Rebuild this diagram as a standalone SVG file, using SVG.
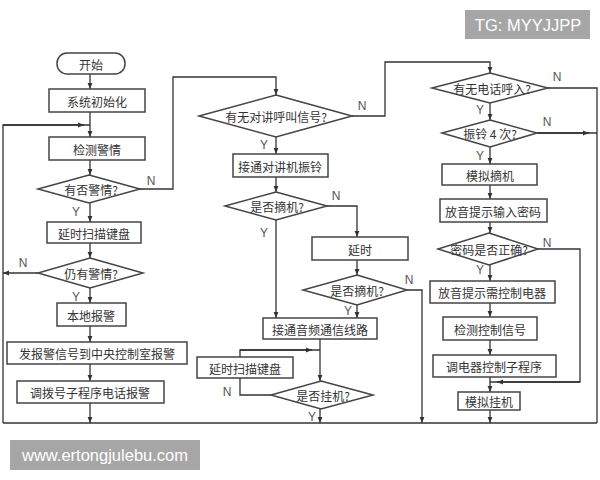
<svg xmlns="http://www.w3.org/2000/svg" width="600" height="480" viewBox="0 0 600 480">
<style>
.n rect,.n path{fill:#fff;stroke:#444;stroke-width:1.5}
.n text{font-family:"Noto Sans CJK SC","Liberation Sans",sans-serif;font-size:12px;fill:#333;text-anchor:middle;dominant-baseline:central}
#edges path{fill:none;stroke:#333;stroke-width:1.3}
.lb{font-family:"Liberation Sans",sans-serif;font-size:12px;fill:#555;text-anchor:middle;dominant-baseline:central}
.wm{font-family:"Liberation Sans","DejaVu Sans",sans-serif;font-size:16.5px;fill:#fff}
</style>
<defs>
<marker id="a" viewBox="0 0 10 10" refX="10" refY="5" markerWidth="6" markerHeight="6" orient="auto" markerUnits="userSpaceOnUse"><path d="M0,1 L10,5 L0,9 z" fill="#333"/></marker>
</defs>
<rect width="600" height="480" fill="#fff"/>
<g id="edges">
<path d="M90,74 V89" marker-end="url(#a)"/>
<path d="M90,112 V137" marker-end="url(#a)"/>
<path d="M90,160 V175" marker-end="url(#a)"/>
<path d="M90,203 V222" marker-end="url(#a)"/>
<path d="M140,189 H173 V77 H276 V95" marker-end="url(#a)"/>
<path d="M90,243 V258" marker-end="url(#a)"/>
<path d="M38,273 H3" marker-end="url(#a)"/>
<path d="M3,423 V125 H90" />
<path d="M3,125 H84" marker-end="url(#a)"/>
<path d="M90,287 V303" marker-end="url(#a)"/>
<path d="M90,326 V342" marker-end="url(#a)"/>
<path d="M90,364 V381" marker-end="url(#a)"/>
<path d="M90,403 V423" marker-end="url(#a)"/>
<path d="M3,423 H597"/>
<path d="M276,137 V154" marker-end="url(#a)"/>
<path d="M276,177 V192" marker-end="url(#a)"/>
<path d="M327,206 H357 V237" marker-end="url(#a)"/>
<path d="M276,220 V318" marker-end="url(#a)"/>
<path d="M357,260 V275" marker-end="url(#a)"/>
<path d="M357,305 V318" marker-end="url(#a)"/>
<path d="M407,290 H422 V423" marker-end="url(#a)"/>
<path d="M320,339 V381" marker-end="url(#a)"/>
<path d="M271,395 H240 V378"/>
<path d="M240,357 V350 H320"/>
<path d="M240,350 H312" marker-end="url(#a)"/>
<path d="M320,409 V423" marker-end="url(#a)"/>
<path d="M352,116 H385 V62 H490 V73" marker-end="url(#a)"/>
<path d="M548,88 H597 V423"/>
<path d="M490,103 V120" marker-end="url(#a)"/>
<path d="M537,133 H597"/>
<path d="M537,133 H589" marker-end="url(#a)"/>
<path d="M490,147 V164" marker-end="url(#a)"/>
<path d="M490,185 V199" marker-end="url(#a)"/>
<path d="M490,222 V233" marker-end="url(#a)"/>
<path d="M538,249 H580 V382 H490"/>
<path d="M580,382 H497" marker-end="url(#a)"/>
<path d="M490,265 V281" marker-end="url(#a)"/>
<path d="M490,303 V317" marker-end="url(#a)"/>
<path d="M490,340 V355" marker-end="url(#a)"/>
<path d="M490,377 V392" marker-end="url(#a)"/>
<path d="M490,410 V423" marker-end="url(#a)"/>
</g>
<g id="labels">
<text class="lb" x="151" y="181">N</text>
<text class="lb" x="76" y="212">Y</text>
<text class="lb" x="23" y="263">N</text>
<text class="lb" x="76" y="297">Y</text>
<text class="lb" x="362" y="106">N</text>
<text class="lb" x="264" y="145">Y</text>
<text class="lb" x="336" y="196">N</text>
<text class="lb" x="264" y="233">Y</text>
<text class="lb" x="409" y="280">N</text>
<text class="lb" x="348" y="311">Y</text>
<text class="lb" x="227" y="392">N</text>
<text class="lb" x="312" y="417">Y</text>
<text class="lb" x="557" y="77">N</text>
<text class="lb" x="480" y="110">Y</text>
<text class="lb" x="547" y="122">N</text>
<text class="lb" x="480" y="156">Y</text>
<text class="lb" x="547" y="243">N</text>
<text class="lb" x="480" y="270">Y</text>
</g>
<g id="start" class="n"><rect x="57" y="53" width="68" height="21" rx="10"/><text x="91" y="64">开始</text></g>
<g id="init" class="n"><rect x="49" y="89" width="96" height="23"/><text x="97" y="101">系统初始化</text></g>
<g id="detect" class="n"><rect x="49" y="137" width="96" height="23"/><text x="97" y="149">检测警情</text></g>
<g id="hasAlarm" class="n"><path d="M89,175 L140,189 L89,203 L38,189 Z"/><text x="91" y="189">有否警情?</text></g>
<g id="delayScan1" class="n"><rect x="47" y="222" width="94" height="21"/><text x="94" y="233">延时扫描键盘</text></g>
<g id="stillAlarm" class="n"><path d="M90,258 L143,273 L90,288 L38,273 Z"/><text x="91" y="273">仍有警情?</text></g>
<g id="localAlarm" class="n"><rect x="57" y="303" width="69" height="23"/><text x="91" y="315">本地报警</text></g>
<g id="sendSignal" class="n"><rect x="7" y="342" width="180" height="22"/><text x="97" y="353">发报警信号到中央控制室报警</text></g>
<g id="dialSub" class="n"><rect x="17" y="381" width="147" height="22"/><text x="90" y="392">调拨号子程序电话报警</text></g>
<g id="intercom" class="n"><path d="M276,95 L352,116 L276,137 L199,116 Z"/><text x="276" y="116">有无对讲呼叫信号?</text></g>
<g id="ring" class="n"><rect x="233" y="154" width="95" height="23"/><text x="280" y="166">接通对讲机振铃</text></g>
<g id="offhook1" class="n"><path d="M276,192 L327,206 L276,220 L225,206 Z"/><text x="277" y="206">是否摘机?</text></g>
<g id="delay" class="n"><rect x="312" y="237" width="96" height="23"/><text x="360" y="249">延时</text></g>
<g id="offhook2" class="n"><path d="M357,275 L407,290 L357,305 L303,290 Z"/><text x="357" y="290">是否摘机?</text></g>
<g id="audio" class="n"><rect x="263" y="318" width="114" height="21"/><text x="320" y="329">接通音频通信线路</text></g>
<g id="delayScan2" class="n"><rect x="197" y="357" width="96" height="21"/><text x="245" y="368">延时扫描键盘</text></g>
<g id="onhook" class="n"><path d="M321,381 L373,395 L321,409 L271,395 Z"/><text x="323" y="395">是否挂机?</text></g>
<g id="phoneIn" class="n"><path d="M490,73 L548,88 L490,103 L432,88 Z"/><text x="492" y="88">有无电话呼入?</text></g>
<g id="ring4" class="n"><path d="M490,120 L537,133 L490,147 L442,133 Z"/><text x="490" y="133">振铃 4 次?</text></g>
<g id="simOff" class="n"><rect x="442" y="164" width="95" height="21"/><text x="490" y="175">模拟摘机</text></g>
<g id="promptPwd" class="n"><rect x="440" y="199" width="107" height="23"/><text x="493" y="211">放音提示输入密码</text></g>
<g id="pwdOk" class="n"><path d="M489,233 L538,249 L489,265 L438,249 Z"/><text x="489" y="249">密码是否正确?</text></g>
<g id="promptCtrl" class="n"><rect x="430" y="281" width="125" height="22"/><text x="492" y="292">放音提示需控制电器</text></g>
<g id="detectCtrl" class="n"><rect x="443" y="317" width="94" height="23"/><text x="490" y="329">检测控制信号</text></g>
<g id="ctrlSub" class="n"><rect x="433" y="355" width="123" height="22"/><text x="494" y="366">调电器控制子程序</text></g>
<g id="simOn" class="n"><rect x="458" y="392" width="62" height="18"/><text x="489" y="401">模拟挂机</text></g>
<g id="watermarks">
<rect x="465" y="10" width="125" height="29" fill="#a6a6a6"/>
<text class="wm" x="528" y="25" text-anchor="middle" dominant-baseline="central">TG: MYYJJPP</text>
<rect x="10" y="440" width="190" height="30" fill="#a6a6a6"/>
<text class="wm" x="105" y="455" text-anchor="middle" dominant-baseline="central">www.ertongjulebu.com</text>
</g>
</svg>
